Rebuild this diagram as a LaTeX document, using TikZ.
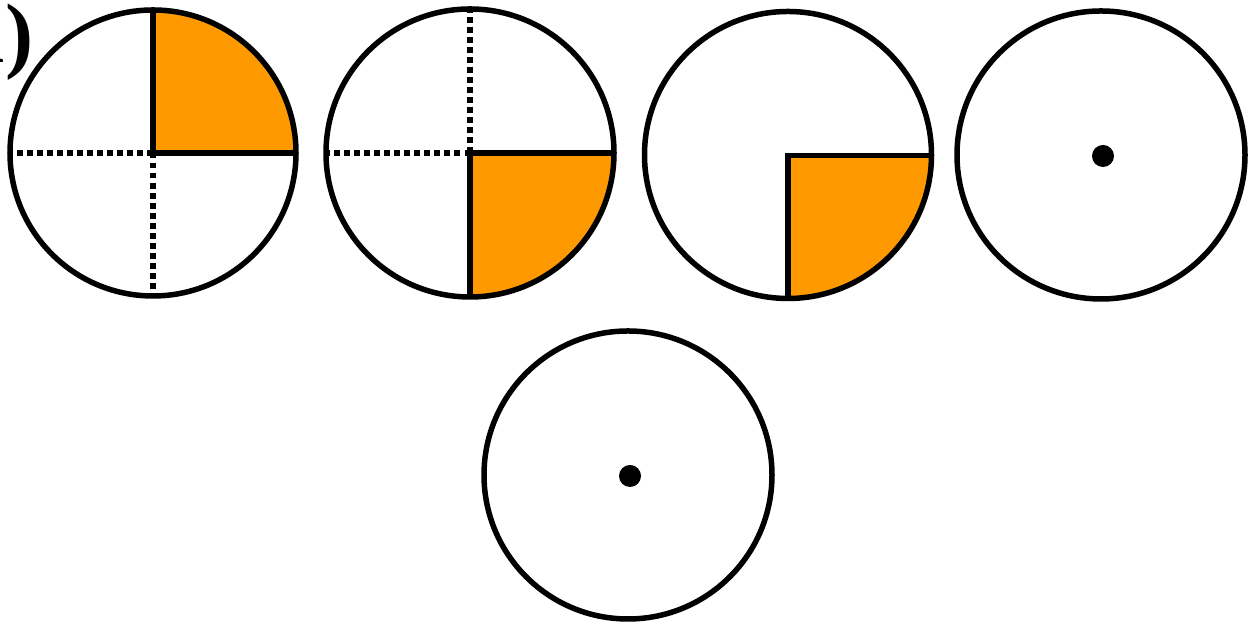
\documentclass[tikz,border=0pt]{standalone}
\usepackage{fontspec}
\setmainfont{Liberation Serif}
\definecolor{quad}{RGB}{255,153,0}
\begin{document}
\begin{tikzpicture}[x=0.01cm,y=0.01cm,
  ring/.style={draw=black,line width=0.055cm},
  solidline/.style={draw=black,line width=0.055cm,line cap=butt,line join=miter},
  dotline/.style={draw=black,line width=0.055cm,dash pattern=on 0.055cm off 0.045cm},
  dotfill/.style={fill=black}]
\useasboundingbox (0,0) rectangle (1254,622);
% label
\node[anchor=base east,inner sep=0pt,font=\bfseries\fontsize{24}{28}\selectfont] (lab) at (34,559) {(a)};
% circle 1
\coordinate (c1) at (153,469);
\fill[quad] (c1) -- ++(0,143) arc (90:0:143) -- cycle;
\draw[dotline] (c1) -- ++(-143,0);
\draw[dotline] (c1) -- ++(0,-143);
\draw[solidline] (c1) -- ++(0,143);
\draw[solidline] (c1) -- ++(143,0);
\draw[ring] (c1) circle (143);
% circle 2
\coordinate (c2) at (470,469);
\fill[quad] (c2) -- ++(144,0) arc (0:-90:144) -- cycle;
\draw[dotline] (c2) -- ++(-144,0);
\draw[dotline] (c2) -- ++(0,144);
\draw[solidline] (c2) -- ++(144,0);
\draw[solidline] (c2) -- ++(0,-144);
\draw[ring] (c2) circle (144);
% circle 3
\coordinate (c3) at (788,466.5);
\coordinate (c3c) at (788,467);
\fill[quad] (c3c) -- ++(144,0) arc (0:-90:144) -- cycle;
\draw[solidline] ([xshift=144cm/100]c3) -- (c3) -- ++(0,-143);
\draw[ring] (788,467) circle (143.5);
% circle 4
\coordinate (c4) at (1101,467);
\draw[ring] (c4) circle (144);
\fill[dotfill] (1103,466) circle (11);
% circle 5
\coordinate (c5) at (628,147);
\draw[ring] (c5) circle (144);
\fill[dotfill] (630,146) circle (11);
\end{tikzpicture}
\end{document}
